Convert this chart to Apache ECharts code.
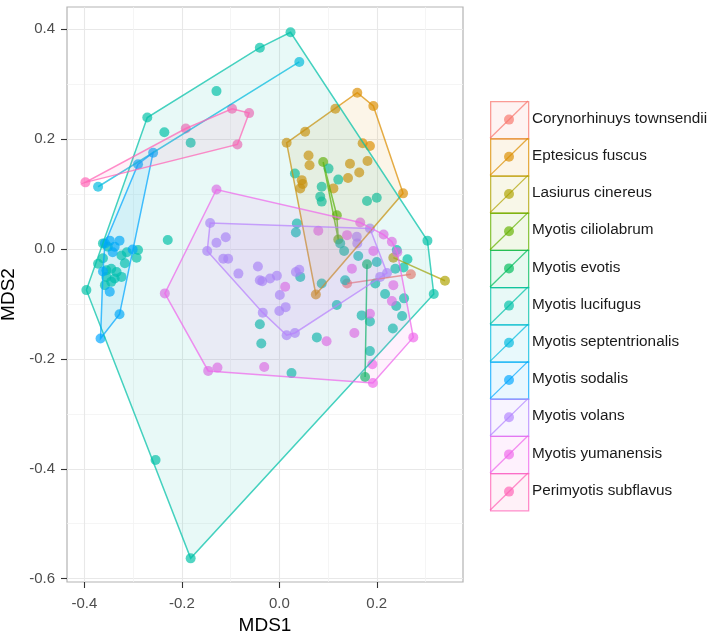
<!DOCTYPE html>
<html><head><meta charset="utf-8">
<script src="https://cdn.jsdelivr.net/npm/echarts@6/dist/echarts.min.js"></script>
<style>html,body{margin:0;padding:0;background:#fff}#c{width:714px;height:635px}</style>
</head><body><div id="c"></div>
<script>
const speciesNames = ["Corynorhinuys townsendii","Eptesicus fuscus","Lasiurus cinereus","Myotis ciliolabrum","Myotis evotis","Myotis lucifugus","Myotis septentrionalis","Myotis sodalis","Myotis volans","Myotis yumanensis","Perimyotis subflavus"];
const speciesColors = ["#F8766D","#DB8E00","#AEA200","#64B200","#00BD5C","#00C1A7","#00BADE","#00A6FF","#B385FF","#EF67EB","#FF63B6"];
const xTicks = [-0.4,-0.2,0.0,0.2];
const yTicks = [-0.6,-0.4,-0.2,0.0,0.2,0.4];

const corynorhinusTownsendii = [[0.139,-0.063],[0.270,-0.046]];
const eptesicusFuscus = [[0.015,0.193],[0.053,0.213],[0.115,0.255],[0.160,0.284],[0.193,0.260],[0.254,0.101],[0.075,-0.083],
 [0.060,0.170],[0.062,0.152],[0.046,0.125],[0.048,0.118],[0.043,0.110],[0.145,0.155],[0.181,0.160],
 [0.164,0.139],[0.141,0.129],[0.111,0.110],[0.171,0.192],[0.186,0.187]];
const lasiurusCinereus = [[0.234,-0.016],[0.340,-0.058]];
const myotisCiliolabrum = [[0.090,0.158],[0.118,0.061],[0.121,0.017]];
const myotisEvotis = [[0.180,-0.028],[0.176,-0.233]];
const myotisLucifugus = [[-0.271,0.239],[-0.040,0.366],[0.023,0.394],[0.304,0.015],[0.317,-0.082],[-0.182,-0.563],[-0.396,-0.075],
 [-0.129,0.287],[-0.236,0.212],[-0.182,0.193],[-0.229,0.016],
 [-0.362,0.010],[-0.352,0.004],[-0.324,-0.012],[-0.313,-0.006],[-0.290,-0.002],[-0.293,-0.016],[-0.372,-0.027],
 [-0.355,-0.039],[-0.345,-0.036],[-0.334,-0.042],[-0.355,-0.051],[-0.338,-0.054],[-0.324,-0.051],[-0.345,-0.060],
 [-0.358,-0.066],[-0.362,-0.017],[-0.317,-0.026],
 [-0.254,-0.384],
 [0.032,0.137],[0.101,0.146],[0.121,0.126],[0.087,0.113],[0.084,0.095],[0.087,0.086],[0.180,0.087],[0.200,0.093],
 [0.036,0.046],[0.034,0.030],[0.125,0.010],[0.133,-0.004],[0.162,-0.013],[0.200,-0.024],[0.241,-0.002],[0.263,-0.019],
 [0.238,-0.036],[0.255,-0.034],[0.043,-0.051],[0.087,-0.063],[0.135,-0.057],[0.197,-0.063],[0.217,-0.082],[0.256,-0.090],
 [0.240,-0.104],[0.118,-0.102],[0.169,-0.121],[0.186,-0.132],[0.252,-0.122],[0.233,-0.145],[0.077,-0.161],[0.186,-0.186],
 [-0.040,-0.137],[-0.037,-0.172],[0.025,-0.226]];
const myotisSeptentrionalis = [[-0.372,0.113],[0.041,0.340]];
const myotisSodalis = [[-0.259,0.175],[-0.290,0.154],[-0.358,0.010],[-0.348,0.015],[-0.328,0.015],[-0.338,0.004],[-0.342,-0.006],
 [-0.301,-0.001],[-0.362,-0.041],[-0.348,-0.078],[-0.328,-0.119],[-0.367,-0.163]];
const myotisVolans = [[-0.142,0.047],[-0.148,-0.004],[-0.129,0.011],[-0.110,0.021],[-0.115,-0.018],[-0.105,-0.018],[-0.084,-0.045],
 [-0.044,-0.032],[-0.035,-0.059],[-0.019,-0.054],[-0.005,-0.049],[0.001,-0.084],[0.034,-0.042],[0.041,-0.038],
 [0.000,-0.113],[0.013,-0.106],[-0.034,-0.116],[0.015,-0.157],[0.032,-0.153],[-0.040,-0.057],
 [0.159,0.022],[0.160,0.010],[0.186,0.037],[0.221,-0.044],[0.207,-0.051]];
const myotisYumanensis = [[-0.129,0.108],[0.166,0.048],[0.214,0.026],[0.231,0.013],[0.242,-0.006],[0.275,-0.161],[0.192,-0.244],[0.191,-0.210],
 [-0.146,-0.222],[-0.127,-0.216],[-0.235,-0.081],[-0.031,-0.215],[0.097,-0.168],[0.154,-0.153],[0.186,-0.118],
 [0.231,-0.095],[0.234,-0.066],[0.193,-0.004],[0.149,-0.036],[0.080,0.033],[0.012,-0.069],[0.139,0.025]];
const perimyotisSubflavus = [[-0.398,0.121],[-0.097,0.255],[-0.062,0.247],[-0.086,0.190],[-0.192,0.219]];

const groups = [corynorhinusTownsendii, eptesicusFuscus, lasiurusCinereus, myotisCiliolabrum, myotisEvotis,
  myotisLucifugus, myotisSeptentrionalis, myotisSodalis, myotisVolans, myotisYumanensis, perimyotisSubflavus];

function convexHull(pts){
  const p = pts.slice().sort((a,b)=>a[0]-b[0]||a[1]-b[1]);
  if (p.length < 3) return p;
  const cross=(o,a,b)=>(a[0]-o[0])*(b[1]-o[1])-(a[1]-o[1])*(b[0]-o[0]);
  const lower=[]; for(const q of p){while(lower.length>=2&&cross(lower[lower.length-2],lower[lower.length-1],q)<=0)lower.pop();lower.push(q);}
  const upper=[]; for(let i=p.length-1;i>=0;i--){const q=p[i];while(upper.length>=2&&cross(upper[upper.length-2],upper[upper.length-1],q)<=0)upper.pop();upper.push(q);}
  upper.pop(); lower.pop(); return lower.concat(upper);
}
function rgba(hex,a){const n=parseInt(hex.slice(1),16);return `rgba(${n>>16},${(n>>8)&255},${n&255},${a})`;}

const FONT = "'Liberation Sans', Arial, sans-serif";
const series = [];
groups.forEach((pts,i)=>{
  series.push({type:'scatter', name:speciesNames[i], data:pts, symbolSize:10, silent:true, z:2,
    itemStyle:{color:speciesColors[i], opacity:0.68}});
});
groups.forEach((pts,i)=>{
  const h = convexHull(pts), c = speciesColors[i];
  series.push({type:'custom', name:speciesNames[i], data:[h[0]], silent:true, z:3, clip:true,
    renderItem:(params, api)=>({type:'polygon', shape:{points:h.map(p=>api.coord(p))},
      style:{fill:rgba(c,0.09), stroke:rgba(c,0.72), lineWidth:1.5}})});
});

// legend (ggplot-style keys)
const legTop = 101, keyW = 38, keyH = 37.2, legLeft = 490;
const graphic = [];
speciesNames.forEach((name,i)=>{
  const y = legTop + i*keyH, c = speciesColors[i];
  graphic.push({type:'rect', left:legLeft, top:y, shape:{x:0,y:0,width:keyW,height:keyH}, style:{fill:rgba(c,0.09), stroke:rgba(c,0.72), lineWidth:1.3}, z:10});
  graphic.push({type:'line', shape:{x1:legLeft, y1:y+keyH, x2:legLeft+keyW, y2:y}, style:{stroke:rgba(c,0.72), lineWidth:1.3}, z:11});
  graphic.push({type:'circle', shape:{cx:legLeft+keyW/2, cy:y+keyH/2, r:5}, style:{fill:c, opacity:0.68}, z:12});
  graphic.push({type:'text', left:legLeft+keyW+4, top:y+keyH/2-8.5, style:{text:name, fill:'#1a1a1a', font:`15.3px ${FONT}`}, z:12});
});

const gridLine = {show:true, lineStyle:{color:'#E8E8E8', width:1.1}};
const minorLine = {show:true, lineStyle:{color:'#F3F3F3', width:0.8}};
const chart = echarts.init(document.getElementById('c'), null, {renderer:'canvas'});
chart.setOption({
  animation:false,
  backgroundColor:'#fff',
  grid:{left:67, right:251, top:7, bottom:53, show:true, borderColor:'#B3B3B3', borderWidth:1.2, backgroundColor:'transparent',
    containLabel:false, outerBoundsMode:'none'},
  xAxis:{type:'value', min:-0.4358, max:0.377, minInterval:0.2, maxInterval:0.2, position:'bottom',
    axisLine:{show:false, onZero:false},
    axisTick:{show:true, inside:false, length:6, lineStyle:{color:'#333', width:1.1}, customValues:xTicks},
    axisLabel:{customValues:xTicks, formatter:v=>Number(v).toFixed(1), color:'#4D4D4D', fontSize:15, margin:14, fontFamily:FONT},
    splitLine:gridLine, minorTick:{show:false, splitNumber:2}, minorSplitLine:minorLine,
    name:'MDS1', nameLocation:'middle', nameGap:33, nameTextStyle:{color:'#000', fontSize:19, fontFamily:FONT}},
  yAxis:{type:'value', min:-0.606, max:0.44, minInterval:0.2, maxInterval:0.2, position:'left',
    axisLine:{show:false, onZero:false},
    axisTick:{show:true, inside:false, length:6, lineStyle:{color:'#333', width:1.1}, customValues:yTicks},
    axisLabel:{customValues:yTicks, formatter:v=>Number(v).toFixed(1), color:'#4D4D4D', fontSize:15, margin:12, fontFamily:FONT},
    splitLine:gridLine, minorTick:{show:false, splitNumber:2}, minorSplitLine:minorLine,
    name:'MDS2', nameLocation:'middle', nameGap:40, nameTextStyle:{color:'#000', fontSize:19, fontFamily:FONT}},
  series: series,
  graphic: graphic
});
</script></body></html>
